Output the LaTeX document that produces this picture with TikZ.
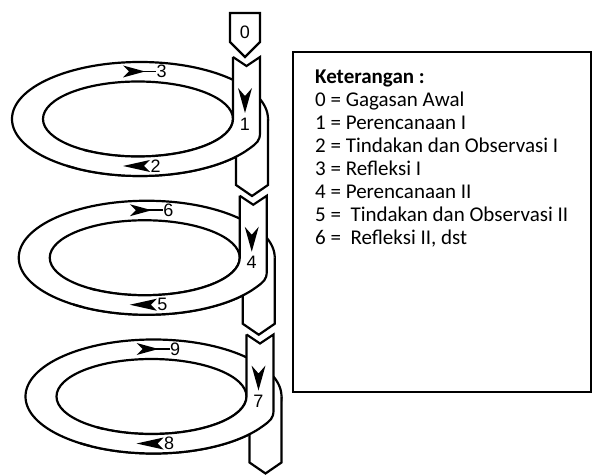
\documentclass[tikz,border=0pt]{standalone}
\usepackage{fontspec}
\setmainfont{Carlito}
\newfontfamily\digitfont{Liberation Sans}
\begin{document}
\begin{tikzpicture}[x=1pt,y=1pt,line join=miter]
\tikzset{
  band/.style={draw=black, line width=2.2pt, fill=white},
  edge/.style={draw=black, line width=2.2pt},
  numlbl/.style={font=\digitfont\fontsize{18}{18}\selectfont, inner sep=0pt, text=black},
  legendtxt/.style={font=\fontsize{21}{21}\selectfont, anchor=base west, inner sep=0pt},
  headfill/.style={fill=black},
}
\useasboundingbox (0,0) rectangle (598,-476);
% start box
\draw[edge, fill=white] (230,-13) -- (260,-13) -- (260,-42) -- (245,-57) -- (230,-42) -- cycle;
\node[numlbl] (n0) at (245,-32) {0};
\foreach \i in {0,1,2}{
  \pgfmathsetmacro\ox{140+6.75*\i}
  \pgfmathsetmacro\oy{-119-138.75*\i}
  \pgfmathtruncatemacro\na{3*\i+1}
  \pgfmathtruncatemacro\nb{3*\i+2}
  \pgfmathtruncatemacro\nc{3*\i+3}
  % ring
  \draw[band] (\ox,\oy) ellipse [x radius=128pt, y radius=57pt];
  \draw[band] (\ox-2,\oy) ellipse [x radius=95pt, y radius=37.5pt];
  % back strip (continuation going down)
  \fill[white] (\ox+96,\oy) -- (\ox+96,\oy-66) -- (\ox+112,\oy-77) -- (\ox+128,\oy-66) -- (\ox+128,\oy) -- cycle;
  \draw[edge] (\ox+96,\oy) -- (\ox+96,\oy-66) -- (\ox+112,\oy-77) -- (\ox+128,\oy-66) -- (\ox+128,\oy);
  % front strip + lower band
  \fill[white] (\ox+93,\oy+62) -- (\ox+106.5,\oy+53) -- (\ox+120,\oy+62) -- (\ox+120,\oy-14)
     .. controls (\ox+120,\oy-22) and (\ox+116.4,\oy-24.4) .. (\ox+110,\oy-29.15)
     arc[start angle=-30.75, end angle=-120, x radius=128pt, y radius=57pt]
     -- (\ox-49.5,\oy-32.48)
     arc[start angle=-120, end angle=0, x radius=95pt, y radius=37.5pt] -- cycle;
  \draw[edge] (\ox+93,\oy+62) -- (\ox+106.5,\oy+53) -- (\ox+120,\oy+62) -- (\ox+120,\oy-14)
     .. controls (\ox+120,\oy-22) and (\ox+116.4,\oy-24.4) .. (\ox+110,\oy-29.15)
     arc[start angle=-30.75, end angle=-125, x radius=128pt, y radius=57pt];
  \draw[edge] (\ox+93,\oy+62) -- (\ox+93,\oy)
     arc[start angle=0, end angle=-125, x radius=95pt, y radius=37.5pt];
  % down arrow in strip
  \fill[headfill] (\ox+98,\oy+31) -- (\ox+105,\oy+6) -- (\ox+112,\oy+31) -- (\ox+105,\oy+23) -- cycle;
  \node[numlbl] (d\na) at (\ox+105,\oy-5) {\na};
  % top arrow (rightwards)
  \fill[headfill] (\ox-17,\oy+53.5) -- (\ox+5,\oy+47.5) -- (\ox-17,\oy+41.5) -- (\ox-11,\oy+47.5) -- cycle;
  \draw[line width=1.8pt] (\ox,\oy+47.5) -- (\ox+16,\oy+47.5);
  \node[numlbl, anchor=west] (t\nc) at (\ox+16.5,\oy+47.5) {\nc};
  % bottom arrow (leftwards)
  \fill[headfill] (\ox+10,\oy-41) -- (\ox-17,\oy-47) -- (\ox+10,\oy-53) -- (\ox+4,\oy-47) -- cycle;
  \node[numlbl, anchor=west] (b\nb) at (\ox+10.5,\oy-47) {\nb};
}
% legend
\draw[line width=1.3pt] (293,-52) rectangle (591,-392);
\node[legendtxt, font=\fontsize{21}{21}\selectfont\bfseries] (k) at (315,-83.3) {Keterangan :};
\node[legendtxt] (k0) at (315,-106.4) {0 = Gagasan Awal};
\node[legendtxt] (k1) at (315,-129.5) {1 = Perencanaan I};
\node[legendtxt] (k2) at (315,-152.6) {2 = Tindakan dan Observasi I};
\node[legendtxt] (k3) at (315,-175.7) {3 = Refleksi I};
\node[legendtxt] (k4) at (315,-198.8) {4 = Perencanaan II};
\node[legendtxt] (k5) at (315,-221.9) {5 = \ Tindakan dan Observasi II};
\node[legendtxt] (k6) at (315,-245.0) {6 = \ Refleksi II, dst};
\end{tikzpicture}
\end{document}
